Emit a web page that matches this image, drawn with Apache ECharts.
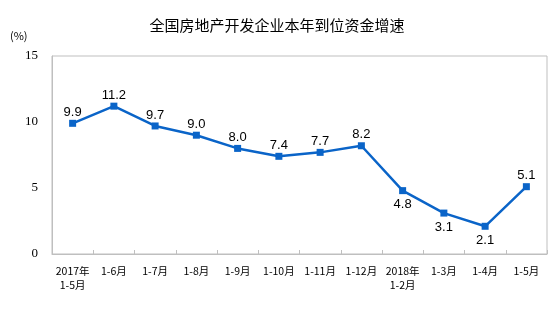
<!DOCTYPE html>
<html>
<head>
<meta charset="utf-8">
<script src="https://cdn.jsdelivr.net/npm/echarts@6/dist/echarts.min.js"></script>
<style>
html,body{margin:0;padding:0;background:#fff;}
#main{width:554px;height:329px;}
</style>
</head>
<body>
<div id="main"></div>
<script>
// Period labels along the x axis
var categories = ['2017年\n1-5月', '1-6月', '1-7月', '1-8月', '1-9月', '1-10月', '1-11月', '1-12月', '2018年\n1-2月', '1-3月', '1-4月', '1-5月'];
// Year-to-date growth of funds, %
var growth = [9.9, 11.2, 9.7, 9.0, 8.0, 7.4, 7.7, 8.2, 4.8, 3.1, 2.1, 5.1];
// Points whose value label sits under the marker
var labelBelow = [8, 9, 10];
var yTicks = [0, 5, 10, 15];

var chart = echarts.init(document.getElementById('main'));
var seriesData = growth.map(function (v, i) {
  var below = labelBelow.indexOf(i) >= 0;
  return { value: v, label: { position: below ? 'bottom' : 'top', distance: below ? 4 : 1 } };
});

chart.setOption({
  animation: false,
  title: {
    text: '全国房地产开发企业本年到位资金增速',
    left: 'center',
    top: 13,
    textStyle: { fontFamily: 'Noto Sans CJK SC', fontSize: 15, fontWeight: 'normal', color: '#000' }
  },
  graphic: [{
    type: 'text', left: 10, top: 30,
    style: { text: '(%)', font: '11px "Noto Sans CJK SC"', fill: '#000' }
  }],
  grid: {
    left: 52, right: 7, top: 56, bottom: 75,
    show: true, borderColor: '#bfbfbf', borderWidth: 1
  },
  xAxis: {
    type: 'category',
    data: categories,
    boundaryGap: true,
    axisLine: { lineStyle: { color: '#bfbfbf' } },
    axisTick: { show: true, inside: true, length: 4, alignWithLabel: false, interval: 0, lineStyle: { color: '#bfbfbf' } },
    axisLabel: { interval: 0, margin: 10, color: '#000', fontFamily: 'Noto Sans CJK SC', fontSize: 10.5, lineHeight: 14 }
  },
  yAxis: {
    type: 'value',
    min: yTicks[0], max: yTicks[yTicks.length - 1], interval: 5,
    splitLine: { show: false },
    axisLine: { show: true, lineStyle: { color: '#bfbfbf' } },
    axisTick: { show: false },
    axisLabel: { color: '#000', fontFamily: 'Liberation Serif', fontSize: 13, margin: 14 }
  },
  series: [{
    type: 'line',
    data: seriesData,
    symbol: 'rect',
    symbolSize: 7,
    itemStyle: { color: '#0a64c8' },
    lineStyle: { color: '#0a64c8', width: 2.5 },
    label: {
      show: true,
      color: '#000',
      fontFamily: 'Liberation Sans',
      fontSize: 13,
      formatter: function (p) { return p.value.toFixed(1); }
    }
  }]
});
</script>
</body>
</html>
